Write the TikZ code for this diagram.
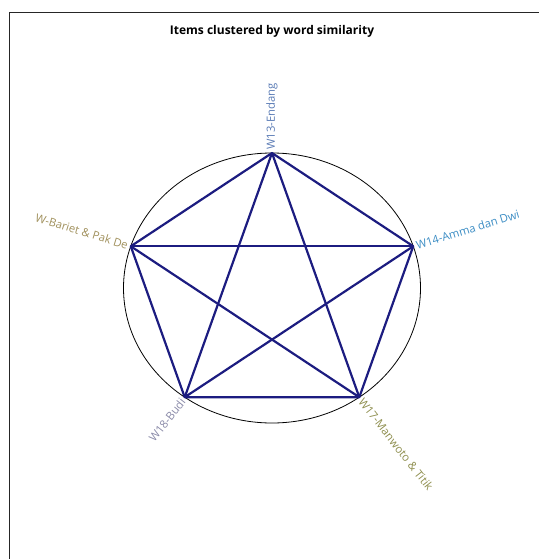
\documentclass[tikz,border=0pt]{standalone}
\usepackage{fontspec}
\setmainfont{Open Sans}
\usetikzlibrary{calc}

\definecolor{navyedge}{HTML}{1C1C80}
\definecolor{endangc}{HTML}{5A7BB5}
\definecolor{ammac}{HTML}{3C8DC4}
\definecolor{barietc}{HTML}{A0905C}
\definecolor{budic}{HTML}{8A8AA8}
\definecolor{manwotoc}{HTML}{8E8E4E}

\begin{document}
\begin{tikzpicture}[
    x=1pt, y=-1pt,
    item label/.style={inner sep=3pt, font=\fontsize{11.3}{13}\selectfont},
    chord edge/.style={line width=2.2pt, draw=navyedge, line join=round},
    ring/.style={draw=black, line width=0.8pt}
]
\useasboundingbox (0,0) rectangle (539,559);

% frame and title
\draw[line width=1.2pt, draw=black!85] (9.5,559) -- (9.5,12.5) -- (539,12.5);
\node[font=\fontsize{12}{14}\selectfont\bfseries] (title) at (272,31) {Items clustered by word similarity};

% cluster ring
\draw[ring] (272,288) ellipse [x radius=148.5, y radius=135];

% items on the ring
\coordinate (W13) at ({272+148.5*cos(90)},  {288-135*sin(90)});
\coordinate (W14) at ({272+148.5*cos(18)},  {288-135*sin(18)});
\coordinate (W17) at ({272+148.5*cos(-54)}, {288-135*sin(-54)});
\coordinate (W18) at ({272+148.5*cos(234)}, {288-135*sin(234)});
\coordinate (WB)  at ({272+148.5*cos(162)}, {288-135*sin(162)});

% links between items
\draw[chord edge] (W13) -- (W14) -- (W17) -- (W18) -- (WB) -- cycle;
\draw[chord edge] (W13) -- (W17);
\draw[chord edge] (W13) -- (W18);
\draw[chord edge] (W14) -- (W18);
\draw[chord edge] (W14) -- (WB);
\draw[chord edge] (W17) -- (WB);

% labels
\node[item label, text=endangc, anchor=west, rotate=90] (L13) at (W13) {W13-Endang};
\node[item label, text=ammac, anchor=west, rotate=17] (L14) at (W14) {W14-Amma dan Dwi};
\node[item label, text=manwotoc, anchor=west, rotate=-52] (L17) at (W17) {W17-Manwoto \& Titik};
\node[item label, text=budic, anchor=east, rotate=52] (L18) at (W18) {W18-Budi};
\node[item label, text=barietc, anchor=east, rotate=-17] (LB) at (WB) {W-Bariet \& Pak De};

\end{tikzpicture}
\end{document}
